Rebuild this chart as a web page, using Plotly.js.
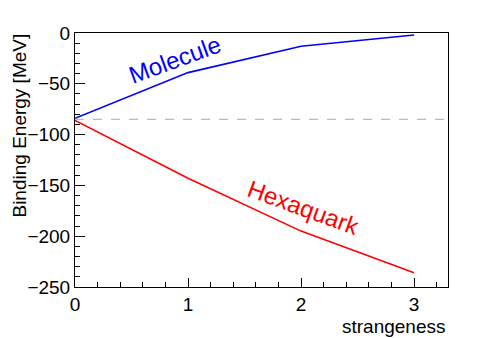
<!DOCTYPE html>
<html>
<head>
<meta charset="utf-8">
<script src="https://cdn.plot.ly/plotly-3.0.1.min.js"></script>
<style>
  body { margin: 0; }
  #plot { width: 498px; height: 338px; }
</style>
</head>
<body>
<div id="plot"></div>
<script>
var strangeness = [0, 1, 2, 3];
var molecule = [-84, -39, -13, -2];
var hexaquark = [-86, -143, -195, -236];
var threshold = -85;

var font = 'Liberation Sans, Arial, sans-serif';

var Molecule = {
  x: strangeness,
  y: molecule,
  mode: 'lines',
  type: 'scatter',
  line: { color: '#0000ff', width: 1.6 },
  hoverinfo: 'none'
};

var Hexaquark = {
  x: strangeness,
  y: hexaquark,
  mode: 'lines',
  type: 'scatter',
  line: { color: '#ff0000', width: 1.6 },
  hoverinfo: 'none'
};

var data = [Molecule, Hexaquark];

var layout = {
  width: 498,
  height: 338,
  margin: { l: 75, r: 50, t: 33, b: 51 },
  paper_bgcolor: 'white',
  plot_bgcolor: 'white',
  showlegend: false,
  font: { family: font, color: '#000' },
  xaxis: {
    range: [0, 3.3],
    showgrid: false,
    zeroline: false,
    showline: true,
    linecolor: '#000',
    linewidth: 1,
    mirror: true,
    ticks: 'inside',
    ticklen: 9,
    tickcolor: '#000',
    dtick: 1,
    tickfont: { family: font, size: 19 },
    ticklabelstandoff: 0,
    minor: { dtick: 0.2, ticks: 'inside', ticklen: 5, tickcolor: '#000' }
  },
  yaxis: {
    range: [-250, 0],
    showgrid: false,
    zeroline: false,
    showline: true,
    linecolor: '#000',
    linewidth: 1,
    mirror: true,
    ticks: 'inside',
    ticklen: 10,
    tickcolor: '#000',
    dtick: 50,
    tickfont: { family: font, size: 19 },
    ticklabelstandoff: 0,
    minor: { dtick: 10, ticks: 'inside', ticklen: 5, tickcolor: '#000' }
  },
  shapes: [{
    type: 'line',
    xref: 'paper', x0: 0, x1: 1,
    yref: 'y', y0: threshold, y1: threshold,
    line: { color: '#bbbbbb', width: 1.2, dash: 'dash' }
  }],
  annotations: [
    {
      text: 'Binding Energy [MeV]',
      xref: 'paper', yref: 'paper',
      x: -0.148, y: 1.005,
      xanchor: 'center', yanchor: 'top',
      textangle: -90,
      showarrow: false,
      font: { family: font, size: 19 }
    },
    {
      text: 'strangeness',
      xref: 'paper', yref: 'paper',
      x: 1, y: -0.105,
      xanchor: 'right', yanchor: 'top',
      showarrow: false,
      font: { family: font, size: 19 }
    },
    {
      text: 'Molecule',
      xref: 'x', yref: 'y',
      x: 0.885, y: -26.5,
      textangle: -20,
      showarrow: false,
      font: { family: font, size: 24, color: '#0000ff' }
    },
    {
      text: 'Hexaquark',
      xref: 'x', yref: 'y',
      x: 2.02, y: -172,
      textangle: 20,
      showarrow: false,
      font: { family: font, size: 24, color: '#ff0000' }
    }
  ]
};

Plotly.newPlot('plot', data, layout, { staticPlot: true });
</script>
</body>
</html>
